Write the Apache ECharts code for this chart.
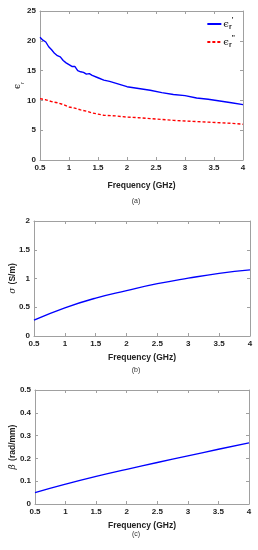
<!DOCTYPE html>
<html><head><meta charset="utf-8">
<script src="https://cdn.jsdelivr.net/npm/echarts@6/dist/echarts.min.js"></script>
<style>html,body{margin:0;padding:0;background:#fff}#c{width:258px;height:550px}</style>
</head><body><div id="c"></div>
<script>
// Panel (a): relative permittivity
const freqA = [0.5,0.55,0.6,0.65,0.7,0.75,0.8,0.85,0.9,0.95,1.0,1.05,1.1,1.15,1.2,1.25,1.3,1.35,1.4,1.5,1.6,1.7,1.8,1.9,2.0,2.2,2.4,2.6,2.8,3.0,3.2,3.4,3.6,3.8,4.0];
const epsReal = [20.6,20.1,19.8,19.0,18.5,17.9,17.5,17.3,16.7,16.3,16.0,15.7,15.7,15.0,14.8,14.7,14.4,14.5,14.2,13.8,13.4,13.2,12.9,12.6,12.3,12.0,11.7,11.3,11.0,10.8,10.4,10.2,9.9,9.6,9.3];
const freqImag = [0.5,0.6,0.7,0.8,0.9,1.0,1.1,1.2,1.3,1.4,1.5,1.6,1.8,2.0,2.2,2.4,2.6,2.8,3.0,3.2,3.4,3.6,3.8,4.0];
const epsImag = [10.3,10.1,9.8,9.6,9.3,8.9,8.7,8.4,8.2,7.9,7.7,7.5,7.4,7.2,7.1,6.95,6.8,6.65,6.55,6.45,6.35,6.25,6.15,6.0];
// Panel (b): conductivity
const freqB = [0.5,1.0,1.5,2.0,2.5,3.0,3.5,4.0];
const sigma = [0.276,0.49,0.66,0.79,0.91,1.006,1.09,1.15];
// Panel (c): phase constant
const freqC = [0.5,1.0,1.5,2.0,2.5,3.0,3.5,4.0];
const beta = [0.05,0.087,0.121,0.152,0.182,0.211,0.24,0.268];
// Tick settings
const xTicks = {min:0.5, max:4, interval:0.5};
const yA = {min:0, max:25, interval:5};
const yB = {min:0, max:2, interval:0.5};
const yC = {min:0, max:0.5, interval:0.1};
const captions = ['(a)','(b)','(c)'];

const zip = (xs, ys) => xs.map((x,i)=>[x, ys[i]]);
const FONT = '"Liberation Sans", Arial, sans-serif';
const axisGray = '#a0a0a0';
const lblStyle = {fontFamily:FONT, fontWeight:'bold', fontSize:8, color:'#222'};

const grids = [
  {left:40, top:11, width:203, height:149, outerBoundsMode:'none', containLabel:false},
  {left:34, top:221, width:216, height:115, outerBoundsMode:'none', containLabel:false},
  {left:35, top:390, width:214, height:114, outerBoundsMode:'none', containLabel:false}
];
const yDefs = [yA, yB, yC];
const yNames = [
  '{e|ϵ}{s|r}',
  '{g|σ} {t|(S/m)}',
  '{g|β} {t|(rad/mm)}'
];
const yGaps = [15, 15, 16];
const xGaps = [21, 17, 17];

const xAxis = [], yAxis = [];
grids.forEach((g, i) => {
  xAxis.push({
    type:'value', gridIndex:i, ...xTicks,
    axisLine:{show:true, onZero:false, lineStyle:{color:axisGray, width:1}},
    axisTick:{show:true, inside:true, length:3, lineStyle:{color:axisGray}},
    splitLine:{show:false},
    axisLabel:{...lblStyle, margin:4, formatter:v=>String(v)},
    name:'Frequency (GHz)', nameLocation:'middle', nameGap:xGaps[i], nameMoveOverlap:false,
    nameTextStyle:{fontFamily:FONT, fontWeight:'bold', fontSize:8.5, color:'#222'}
  });
  xAxis.push({
    type:'value', gridIndex:i, position:'top', ...xTicks,
    axisLine:{show:true, onZero:false, lineStyle:{color:axisGray, width:1}},
    axisTick:{show:true, inside:true, length:3, lineStyle:{color:axisGray}},
    axisLabel:{show:false}, splitLine:{show:false}
  });
  yAxis.push({
    type:'value', gridIndex:i, ...yDefs[i],
    axisLine:{show:true, onZero:false, lineStyle:{color:axisGray, width:1}},
    axisTick:{show:true, inside:true, length:3, lineStyle:{color:axisGray}},
    splitLine:{show:false},
    axisLabel:{...lblStyle, margin:4, formatter:v=>String(v)},
    name:yNames[i], nameLocation:'middle', nameGap:yGaps[i], nameRotate:90, nameMoveOverlap:false,
    nameTextStyle:{
      fontFamily:FONT, color:'#222',
      rich:{
        e:{fontFamily:'"DejaVu Serif", serif', fontSize:9, color:'#222', lineHeight:14, verticalAlign:'middle'},
        s:{fontFamily:FONT, fontSize:6, color:'#222', lineHeight:14, verticalAlign:'bottom'},
        g:{fontFamily:'"DejaVu Serif", serif', fontStyle:'italic', fontSize:9, color:'#222'},
        t:{fontFamily:FONT, fontWeight:'bold', fontSize:8.5, color:'#222'}
      }
    }
  });
  yAxis.push({
    type:'value', gridIndex:i, position:'right', ...yDefs[i],
    axisLine:{show:true, onZero:false, lineStyle:{color:axisGray, width:1}},
    axisTick:{show:true, inside:true, length:3, lineStyle:{color:axisGray}},
    axisLabel:{show:false}, splitLine:{show:false}
  });
});

const legendRich = {
  e:{fontFamily:'"DejaVu Serif", serif', fontSize:10, color:'#222', lineHeight:14, verticalAlign:'middle'},
  s:{fontFamily:FONT, fontWeight:'bold', fontSize:7, color:'#222', lineHeight:14, verticalAlign:'bottom'},
  p:{fontFamily:FONT, fontWeight:'bold', fontSize:7, color:'#222', lineHeight:14, verticalAlign:'top'}
};

const option = {
  animation:false,
  backgroundColor:'#fff',
  grid: grids,
  xAxis, yAxis,
  legend:{
    orient:'vertical', right:18, top:12, itemWidth:14, itemHeight:8, itemGap:4,
    data:['er1','er2'],
    itemStyle:{color:'rgba(0,0,0,0)', borderWidth:0, opacity:0},
    formatter: n => n==='er1' ? '{e|ϵ}{s|r}{p|\'}' : '{e|ϵ}{s|r}{p|\'\'}',
    textStyle:{rich:legendRich, padding:[0,0,0,-3]}
  },
  series:[
    {name:'er1', type:'line', xAxisIndex:0, yAxisIndex:0, data:zip(freqA, epsReal), symbol:'none',
     lineStyle:{color:'#0000ff', width:1.4}, itemStyle:{color:'#0000ff'}},
    {name:'er2', type:'line', xAxisIndex:0, yAxisIndex:0, data:zip(freqImag, epsImag), symbol:'none',
     lineStyle:{color:'#ff0000', width:1.4, type:[3,2]}, itemStyle:{color:'#ff0000'}},
    {type:'line', xAxisIndex:2, yAxisIndex:2, data:zip(freqB, sigma), symbol:'none', smooth:true,
     lineStyle:{color:'#0000ff', width:1.4}},
    {type:'line', xAxisIndex:4, yAxisIndex:4, data:zip(freqC, beta), symbol:'none', smooth:true,
     lineStyle:{color:'#0000ff', width:1.4}}
  ],
  graphic:[
    {type:'text', x:136, y:198, style:{text:captions[0], fontFamily:FONT, fontSize:7, fill:'#333', align:'center'}},
    {type:'text', x:136, y:367, style:{text:captions[1], fontFamily:FONT, fontSize:7, fill:'#333', align:'center'}},
    {type:'text', x:136, y:531, style:{text:captions[2], fontFamily:FONT, fontSize:7, fill:'#333', align:'center'}}
  ]
};
const chart = echarts.init(document.getElementById('c'), null, {renderer:'canvas'});
chart.setOption(option);
</script></body></html>
